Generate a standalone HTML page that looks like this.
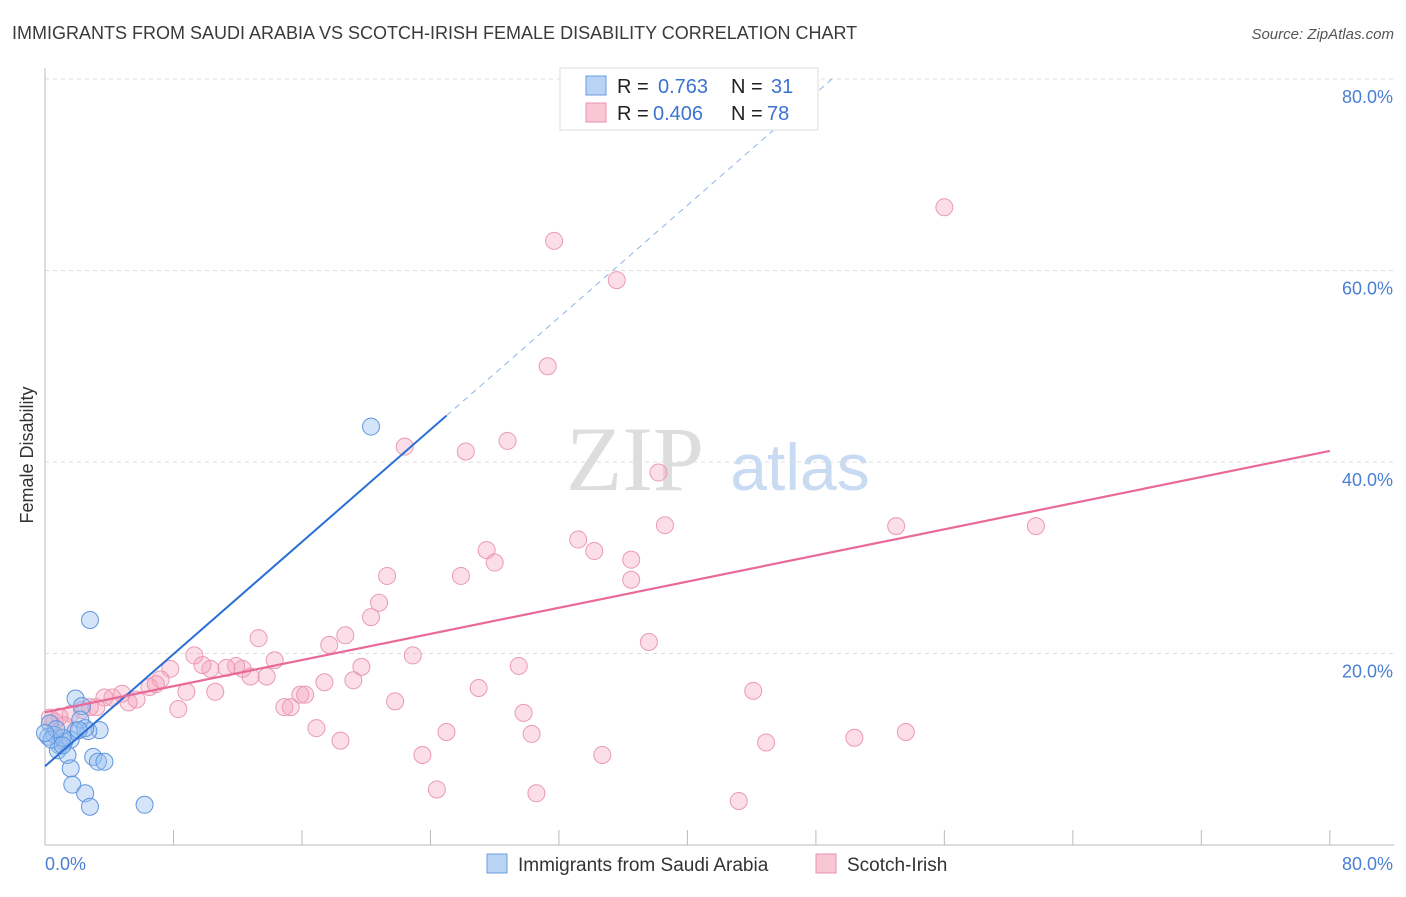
<!DOCTYPE html>
<html><head><meta charset="utf-8"><style>
body{margin:0;background:#fff;font-family:"Liberation Sans",sans-serif}
</style></head><body>
<svg width="1406" height="892" font-family="Liberation Sans, sans-serif">
<text x="12" y="39" font-size="18" fill="#3a3a3a">IMMIGRANTS FROM SAUDI ARABIA VS SCOTCH-IRISH FEMALE DISABILITY CORRELATION CHART</text>
<text x="1394" y="39" font-size="15" fill="#555" font-style="italic" text-anchor="end">Source: ZipAtlas.com</text>
<text x="33" y="455" font-size="18" fill="#333" transform="rotate(-90 33 455)" text-anchor="middle">Female Disability</text>
<g><text x="635" y="490" font-size="92" fill="#ddd" text-anchor="middle" font-family="Liberation Serif, serif">ZIP</text><text x="800" y="490" font-size="66" fill="#c9daf3" text-anchor="middle">atlas</text></g>
<g id="grid"></g><g id="axes"></g><g id="pts"></g><g id="lines"></g>
<g>
<rect x="560" y="68" width="258" height="62" fill="#fff" stroke="#ddd"/>
<rect x="586" y="76" width="20" height="19" fill="#b9d3f5" stroke="#6a9de0"/>
<rect x="586" y="103" width="20" height="19" fill="#f8c6d5" stroke="#e891ad"/>
<text x="617" y="93" font-size="20" fill="#222">R =</text>
<text x="658" y="93" font-size="20" fill="#3a74d0">0.763</text>
<text x="731" y="93" font-size="20" fill="#222">N =</text>
<text x="771" y="93" font-size="20" fill="#3a74d0">31</text>
<text x="617" y="120" font-size="20" fill="#222">R =</text>
<text x="653" y="120" font-size="20" fill="#3a74d0">0.406</text>
<text x="731" y="120" font-size="20" fill="#222">N =</text>
<text x="767" y="120" font-size="20" fill="#3a74d0">78</text>
</g>
<g>
<rect x="487" y="854" width="20" height="19" fill="#b9d3f5" stroke="#6a9de0"/>
<text x="518" y="871" font-size="19" fill="#333">Immigrants from Saudi Arabia</text>
<rect x="816" y="854" width="20" height="19" fill="#f8c6d5" stroke="#e891ad"/>
<text x="847" y="871" font-size="19" fill="#333">Scotch-Irish</text>
</g>
</svg>
<script>
const yTicks=[20,40,60,80];
const xTickLabels=["0.0%","80.0%"];
const blueX=[20.3,2.8,1.9,2.3,3.4,2.7,1.9,0.3,0.6,1.2,0.9,1.6,0.8,1.4,3.0,3.3,3.7,1.6,1.7,2.5,2.8,6.2,0.2,0.4,1.1,2.2,2.5,0.7,0.0,1.1,2.1];
const blueY=[43.7,23.5,15.3,14.5,12.0,11.9,11.9,12.7,11.5,10.8,10.4,11.0,9.9,9.4,9.2,8.7,8.7,8.0,6.3,5.4,4.0,4.2,11.3,11.0,11.2,13.1,12.2,12.1,11.7,10.4,12.0];
const pinkX=[56,31.7,35.6,31.3,22.4,28.8,26.2,38.2,38.6,53,61.7,33.2,34.2,27.5,28,36.5,36.5,25.9,21.3,20.8,20.3,18.7,17.7,13.3,37.6,22.9,29.5,19.7,19.2,17.4,15.9,16.2,13.8,14.3,12.8,12.3,11.9,11.3,10.3,9.8,9.3,7.8,7.2,6.5,6.9,8.8,10.6,8.3,5.7,4.8,4.2,3.7,5.2,3.2,2.8,2.3,1.6,0.9,0.3,0.6,1.2,21.8,27,29.8,30.3,25,23.5,18.4,16.9,14.9,15.3,30.6,34.7,43.2,44.1,44.9,50.4,53.6,24.4];
const pinkY=[66.6,63.1,59.0,50.0,41.6,42.2,41.1,38.9,33.4,33.3,33.3,31.9,30.7,30.8,29.5,29.8,27.7,28.1,28.1,25.3,23.8,21.9,20.9,21.6,21.2,19.8,18.7,18.6,17.2,17.0,15.7,15.7,17.6,19.3,17.6,18.4,18.7,18.5,18.4,18.8,19.8,18.4,17.3,16.5,16.8,16.0,16.0,14.2,15.2,15.8,15.4,15.4,14.9,14.4,14.4,14.1,13.7,13.4,13.3,12.9,12.5,15.0,16.4,13.8,11.6,11.8,9.4,10.9,12.2,14.4,14.4,5.4,9.4,4.6,16.1,10.7,11.2,11.8,5.8];
const X=v=>45+v*16.06, Y=v=>845-v*9.575;
const NS="http://www.w3.org/2000/svg";
function mk(p,t,a){const e=document.createElementNS(NS,t);for(const k in a)e.setAttribute(k,a[k]);document.getElementById(p).appendChild(e);return e;}
yTicks.forEach(t=>{
 const l=mk('grid','line',{x1:45,x2:1394,y1:Y(t),y2:Y(t),stroke:'#ddd','stroke-dasharray':'4 4'});
 
 
 const tx=mk('grid','text',{x:1393,y:Y(t)+24,'font-size':18,fill:'#4a7fd4','text-anchor':'end'});tx.textContent=t.toFixed(1)+'%';
 
 
});
const ax=mk('axes','line',{x1:45,x2:45,y1:68,y2:845,stroke:'#bbb'});


const bx=mk('axes','line',{x1:45,x2:1394,y1:845,y2:845,stroke:'#bbb'});


for(let i=0;i<=10;i++){const t=mk('axes','line',{x1:X(i*8),x2:X(i*8),y1:830,y2:845,stroke:'#bbb'});
 
 }
const l0=mk('axes','text',{x:45,y:870,'font-size':18,fill:'#4a7fd4'});l0.textContent=xTickLabels[0];


const l1=mk('axes','text',{x:1393,y:870,'font-size':18,fill:'#4a7fd4','text-anchor':'end'});l1.textContent=xTickLabels[1];


pinkX.forEach((v,i)=>{const c=mk('pts','circle',{cx:X(v),cy:Y(pinkY[i]),r:8.5,fill:'rgba(244,160,187,0.35)',stroke:'#eb9ab4','stroke-width':1});
 
 });
blueX.forEach((v,i)=>{const c=mk('pts','circle',{cx:X(v),cy:Y(blueY[i]),r:8.5,fill:'rgba(150,190,240,0.4)',stroke:'#5f95de','stroke-width':1});
 
 });
function fit(xs,ys){const n=xs.length,mx=xs.reduce((a,b)=>a+b)/n,my=ys.reduce((a,b)=>a+b)/n;let sxy=0,sxx=0;xs.forEach((x,i)=>{sxy+=(x-mx)*(ys[i]-my);sxx+=(x-mx)**2});const b=sxy/sxx;return [my-b*mx,b];}
const [ba,bb]=fit(blueX,blueY),[pa,pb]=fit(pinkX,pinkY);
const xe=(80-ba)/bb;
const bl=mk('lines','line',{x1:X(0),y1:Y(ba),x2:X(25),y2:Y(ba+bb*25),stroke:'#2a6fd6','stroke-width':2});


const bd=mk('lines','line',{x1:X(25),y1:Y(ba+bb*25),x2:X(xe),y2:Y(80),stroke:'#8fb3e6','stroke-width':1,'stroke-dasharray':'6 5'});


const pl=mk('lines','line',{x1:X(0),y1:Y(pa),x2:X(80),y2:Y(pa+pb*80),stroke:'#e8699a','stroke-width':2.2});


</script>
</body></html>
